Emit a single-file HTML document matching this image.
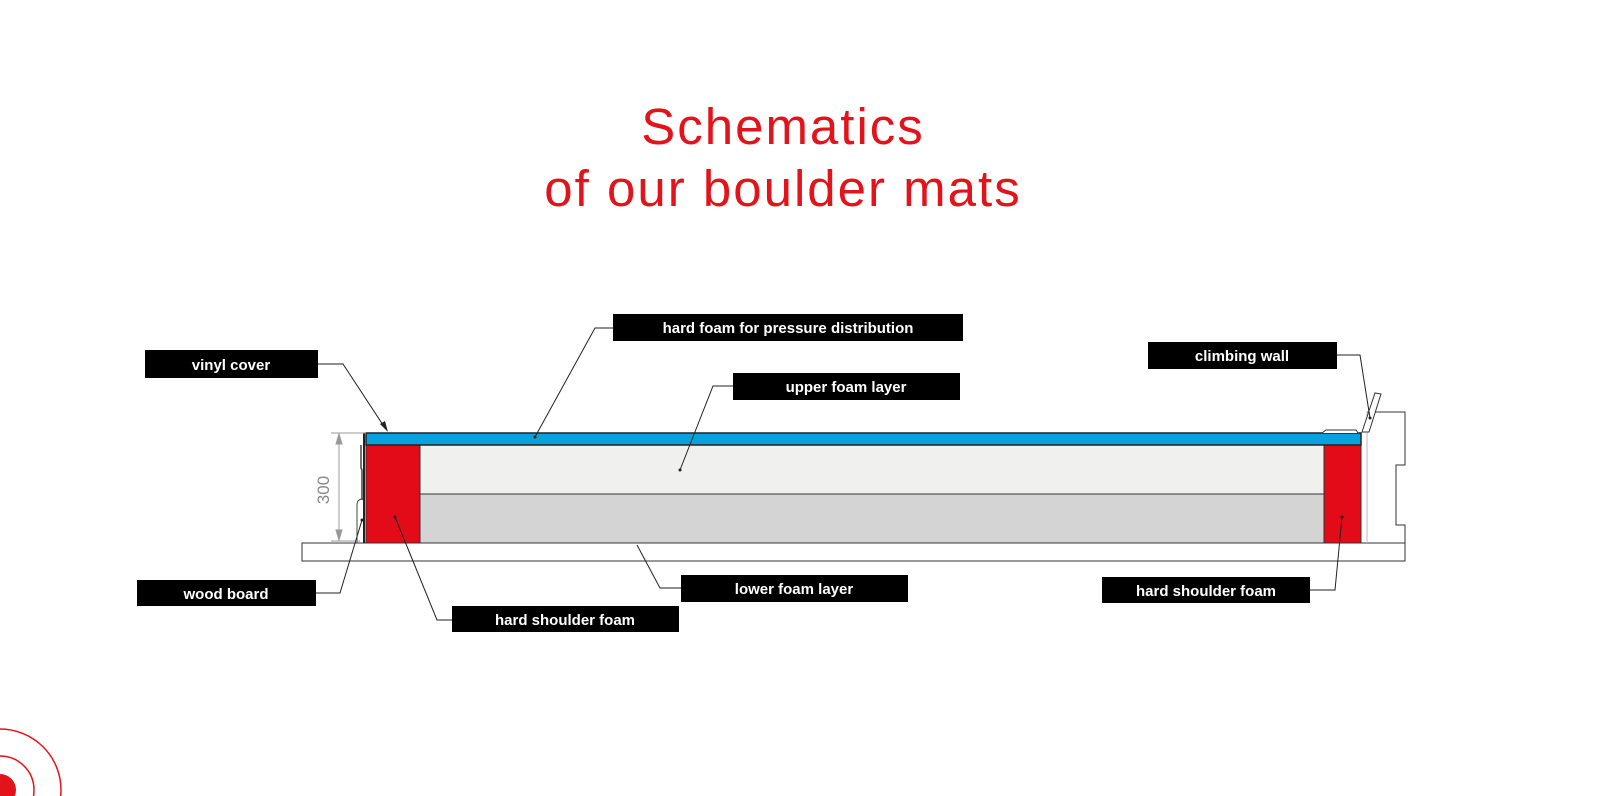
<!DOCTYPE html>
<html><head><meta charset="utf-8"><style>
html,body{margin:0;padding:0;background:#fff;width:1600px;height:796px;overflow:hidden;}
svg{display:block;overflow:hidden}
.t{font-family:"Liberation Sans",sans-serif;font-size:51px;fill:#e3131b;letter-spacing:2px}
.l{font-family:"Liberation Sans",sans-serif;font-size:15px;font-weight:bold;fill:#fff}
.ld{stroke:#222;stroke-width:1;fill:none}
</style></head><body>
<svg width="1600" height="796" viewBox="0 0 1600 796" xmlns="http://www.w3.org/2000/svg">
<text class="t" x="783" y="144" text-anchor="middle">Schematics</text>
<text class="t" x="783" y="206" text-anchor="middle">of our boulder mats</text>

<rect x="302" y="543" width="1103" height="18" fill="#fff" stroke="#333" stroke-width="1"/>
<path d="M1367,412 H1405 V465 H1396 V525 H1405 V543" fill="none" stroke="#333" stroke-width="1"/>
<line x1="1367" y1="412" x2="1367" y2="543" stroke="#bbb" stroke-width="1"/>
<path d="M1362,432 L1375,393 L1381,394 L1369,432 Z" fill="#fff" stroke="#333" stroke-width="1"/>
<rect x="420" y="445" width="904" height="49" fill="#f0f0ef" stroke="#333" stroke-width="1"/>
<rect x="420" y="494" width="904" height="49" fill="#d4d4d4" stroke="#333" stroke-width="1"/>
<rect x="366" y="445" width="54" height="98" fill="#e30b17" stroke="#333" stroke-width="1"/>
<rect x="1324" y="445" width="37" height="98" fill="#e30b17" stroke="#333" stroke-width="1"/>
<rect x="366" y="433" width="995" height="12" fill="#0aa0e0" stroke="#222" stroke-width="1.5"/>
<path d="M1322,433 L1326,430 H1356 L1358,433" fill="#fff" stroke="#333" stroke-width="1"/>
<path d="M364,433 V543" stroke="#222" stroke-width="2"/>
<path d="M361,445 V468 L362,470 V500" stroke="#444" stroke-width="1.5" fill="none"/>
<path d="M363,499 Q357,499 357,505 V543" stroke="#444" stroke-width="1" fill="none"/>
<g stroke="#999" stroke-width="1" fill="#999">
<line x1="331" y1="433" x2="366" y2="433"/>
<line x1="331" y1="541" x2="360" y2="541"/>
<line x1="339" y1="435" x2="339" y2="539"/>
<path d="M339,434 L336,444 L342,444 Z"/>
<path d="M339,540 L336,530 L342,530 Z"/>
</g>
<text x="329" y="490" transform="rotate(-90 329 490)" text-anchor="middle" font-family="Liberation Sans,sans-serif" font-size="17" fill="#888">300</text>

<path class="ld" d="M318,364 H343 L385,428"/>
<path d="M388,432 L380,424 L385,421 Z" fill="#222"/>
<path class="ld" d="M613,328 H595 L535,437"/>
<path class="ld" d="M733,386 H713 L680,470"/>
<path class="ld" d="M1337,355 H1360 L1370,418"/>
<path class="ld" d="M316,593 H340 L362,520"/>
<path class="ld" d="M452,620 H437 L395,517"/>
<path class="ld" d="M681,588 H660 L637,545"/>
<path class="ld" d="M1310,590 H1335 L1342,517"/>
<g fill="#222"><circle cx="535" cy="437" r="1.5"/><circle cx="680" cy="470" r="1.5"/><circle cx="395" cy="517" r="1.5"/><circle cx="1342" cy="517" r="1.5"/><circle cx="362" cy="520" r="1.5"/><circle cx="1370" cy="418" r="1.5"/></g>

<g fill="#000">
<rect x="145" y="350" width="173" height="28"/>
<rect x="613" y="314" width="350" height="27"/>
<rect x="733" y="373" width="227" height="27"/>
<rect x="1148" y="342" width="189" height="27"/>
<rect x="137" y="580" width="179" height="26"/>
<rect x="452" y="606" width="227" height="26"/>
<rect x="681" y="575" width="227" height="27"/>
<rect x="1102" y="577" width="208" height="26"/>
</g>
<text class="l" x="231" y="370" text-anchor="middle">vinyl cover</text>
<text class="l" x="788" y="333" text-anchor="middle">hard foam for pressure distribution</text>
<text class="l" x="846" y="392" text-anchor="middle">upper foam layer</text>
<text class="l" x="1242" y="361" text-anchor="middle">climbing wall</text>
<text class="l" x="226" y="599" text-anchor="middle">wood board</text>
<text class="l" x="565" y="625" text-anchor="middle">hard shoulder foam</text>
<text class="l" x="794" y="594" text-anchor="middle">lower foam layer</text>
<text class="l" x="1206" y="596" text-anchor="middle">hard shoulder foam</text>

<circle cx="0" cy="790" r="61" fill="none" stroke="#e3131b" stroke-width="1.5"/>
<circle cx="0" cy="790" r="34" fill="none" stroke="#e3131b" stroke-width="1.5"/>
<circle cx="0" cy="790" r="16" fill="#e3131b"/>
</svg>
</body></html>
